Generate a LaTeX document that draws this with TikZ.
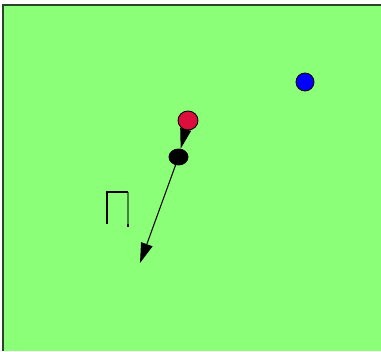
\documentclass[tikz,border=0pt]{standalone}
\usetikzlibrary{arrows.meta,shapes.geometric}
\definecolor{field}{RGB}{140,255,120}
\definecolor{edge}{RGB}{40,70,40}
\definecolor{ballred}{RGB}{220,15,60}
\begin{document}
\begin{tikzpicture}[
    x=0.02cm, y=-0.02cm,
    ball/.style={ellipse, draw=black, line width=0.5pt, inner sep=0pt},
    arr/.style={-{Triangle[length=0.4cm, width=0.22cm]}, line width=0.6pt},
    longarr/.style={-{Triangle[length=0.4cm, width=0.24cm]}, line width=0.6pt}
]
\useasboundingbox (0,0) rectangle (381,351);
% pitch
\fill[field] (3,5) rectangle (381,351);
\draw[edge, line width=1pt] (3,351) -- (3,5) -- (381,5);
% goal
\draw[line width=0.7pt] (107,224) -- (107,192) -- (128,192);
\draw[black, opacity=0.5, line width=0.8pt] (128,192) -- (128,226);
\fill (127,224) rectangle (129,227);
% players and ball
\node[ball, fill=ballred, minimum width=0.4cm, minimum height=0.38cm] (red) at (188,120.5) {};
\node[ball, fill=black, minimum width=0.38cm, minimum height=0.32cm] (puck) at (178.5,157) {};
\node[ball, fill=blue, minimum width=0.36cm, minimum height=0.36cm] (blue) at (305,82) {};
\coordinate (shot) at (140,263);

\draw[arr] (red) -- (puck);
\draw[longarr] (puck) -- (shot);
\end{tikzpicture}
\end{document}
